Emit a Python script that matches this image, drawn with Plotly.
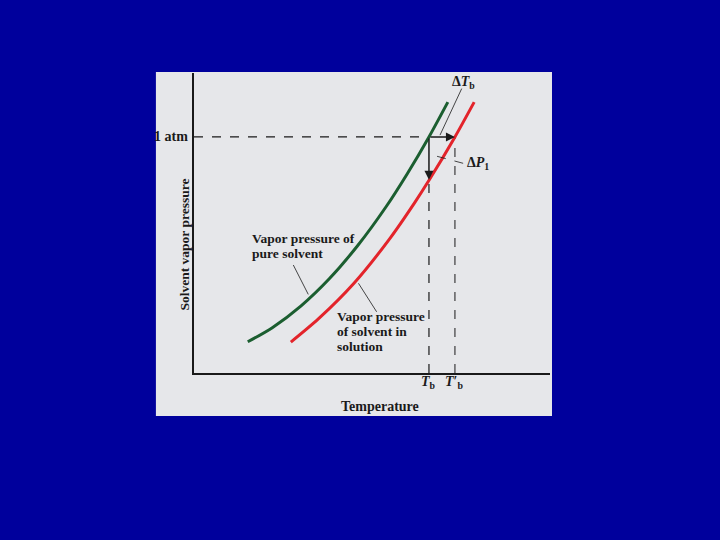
import plotly.graph_objects as go

# Curvas de presión de vapor (unidades arbitrarias de temperatura / presión)
pure_T = [15.1, 22.0, 30.0, 38.0, 46.0, 54.0, 60.0, 66.0, 71.3]
pure_P = [10.4, 15.1, 22.3, 31.4, 42.5, 55.5, 66.6, 78.7, 90.3]

soln_T = [27.2, 35.0, 45.0, 55.0, 62.0, 66.1, 73.3, 78.7]
soln_P = [10.3, 18.1, 30.0, 44.8, 56.8, 64.4, 78.7, 90.3]

P_atm = 78.7      # 1 atm
Tb = 66.0         # punto de ebullición del disolvente puro
Tb_prime = 73.3   # punto de ebullición de la disolución
P_soln_at_Tb = 64.4

BLUE = "#00009C"
PANEL = "#E6E7EA"
GREEN = "#1B5E30"
RED = "#E3242B"
INK = "#1A1A1A"
FONT = "Liberation Serif"

fig = go.Figure()

# Líneas discontinuas de referencia
fig.add_trace(go.Scatter(x=[0, Tb], y=[P_atm, P_atm], mode="lines",
                         line=dict(color=INK, width=1.2, dash="dash"), hoverinfo="skip"))
fig.add_trace(go.Scatter(x=[Tb, Tb], y=[0, P_soln_at_Tb], mode="lines",
                         line=dict(color=INK, width=1.2, dash="dash"), hoverinfo="skip"))
fig.add_trace(go.Scatter(x=[Tb_prime, Tb_prime], y=[0, P_atm], mode="lines",
                         line=dict(color=INK, width=1.0, dash="dash"), hoverinfo="skip"))

# Curvas
fig.add_trace(go.Scatter(x=pure_T, y=pure_P, mode="lines",
                         line=dict(color=GREEN, width=3, shape="spline", smoothing=0.8),
                         name="pure"))
fig.add_trace(go.Scatter(x=soln_T, y=soln_P, mode="lines",
                         line=dict(color=RED, width=3, shape="spline", smoothing=0.8),
                         name="solution"))

# Flechas ΔTb y ΔP1
arrows = [
    dict(x=Tb_prime, y=P_atm, ax=Tb, ay=P_atm),
    dict(x=Tb, y=P_soln_at_Tb, ax=Tb, ay=P_atm),
]
for a in arrows:
    fig.add_annotation(x=a["x"], y=a["y"], ax=a["ax"], ay=a["ay"],
                       xref="x", yref="y", axref="x", ayref="y",
                       text="", showarrow=True, arrowhead=2, arrowsize=1.2,
                       arrowwidth=1.5, arrowcolor=INK)

# Líneas guía de las etiquetas
leaders = [
    ([75.2, 69.1], [94.8, 79.3], "solid"),
    ([75.6, 66.8], [69.9, 72.7], "dash"),
    ([27.9, 32.1], [36.0, 26.2], "solid"),
    ([46.2, 51.3], [29.9, 20.4], "solid"),
]
for lx, ly, d in leaders:
    fig.add_trace(go.Scatter(x=lx, y=ly, mode="lines",
                             line=dict(color=INK, width=0.8, dash=d), hoverinfo="skip"))

txt = dict(family=FONT, size=14, color=INK)
lbl = dict(family=FONT, size=13.5, color=INK)
fig.add_annotation(x=75.6, y=97.0, xref="x", yref="y", showarrow=False,
                   text="<b>Δ<i>T</i><sub>b</sub></b>", font=txt)
fig.add_annotation(x=76.2, y=70.0, xref="x", yref="y", showarrow=False, xanchor="left",
                   text="<b>Δ<i>P</i><sub>1</sub></b>", font=txt)

# Etiquetas de las curvas, una línea por anotación
pure_lines = ["Vapor pressure of", "pure solvent"]
pure_ys = [45.0, 40.0]
soln_lines = ["Vapor pressure", "of solvent in", "solution"]
soln_ys = [18.7, 13.7, 8.7]
for t, yy in zip(pure_lines, pure_ys):
    fig.add_annotation(x=15.7, y=yy, xref="x", yref="y", showarrow=False,
                       xanchor="left", text=f"<b>{t}</b>", font=lbl)
for t, yy in zip(soln_lines, soln_ys):
    fig.add_annotation(x=39.6, y=yy, xref="x", yref="y", showarrow=False,
                       xanchor="left", text=f"<b>{t}</b>", font=lbl)

# Etiquetas de los ejes
fig.add_annotation(x=-0.012, y=P_atm, xref="paper", yref="y", showarrow=False,
                   xanchor="right", text="<b>1 atm</b>", font=txt)
fig.add_annotation(x=Tb, y=-0.03, xref="x", yref="paper", showarrow=False,
                   yanchor="middle", text="<b><i>T</i><sub>b</sub></b>", font=txt)
fig.add_annotation(x=Tb_prime, y=-0.03, xref="x", yref="paper", showarrow=False,
                   yanchor="middle", text="<b><i>T</i>′<sub>b</sub></b>", font=txt)
fig.add_annotation(x=0.522, y=-0.113, xref="paper", yref="paper", showarrow=False,
                   yanchor="middle", text="<b>Temperature</b>", font=txt)
fig.add_annotation(x=-0.053, y=0.427, xref="paper", yref="paper", showarrow=False,
                   textangle=-90, text="<b>Solvent vapor pressure</b>",
                   font=dict(family=FONT, size=13.5, color=INK))

# Panel gris de fondo
fig.add_shape(type="rect", xref="paper", yref="paper",
              x0=-0.107, x1=1.0056, y0=-0.1433, y1=1.0033,
              fillcolor=PANEL, line=dict(width=0), layer="below")

fig.update_layout(
    width=720, height=540,
    paper_bgcolor=BLUE,
    plot_bgcolor="rgba(0,0,0,0)",
    showlegend=False,
    margin=dict(l=194, r=170, t=73, b=167),
    xaxis=dict(range=[0, 100], showgrid=False, zeroline=False, showticklabels=False,
               ticks="", showline=True, linecolor=INK, linewidth=1.5),
    yaxis=dict(range=[0, 100], showgrid=False, zeroline=False, showticklabels=False,
               ticks="", showline=True, linecolor=INK, linewidth=1.5),
)

fig.write_html(
    "out.html",
    config={"displayModeBar": False},
    post_script="document.body.style.margin='0';"
                "document.body.style.background='#00009C';",
)
